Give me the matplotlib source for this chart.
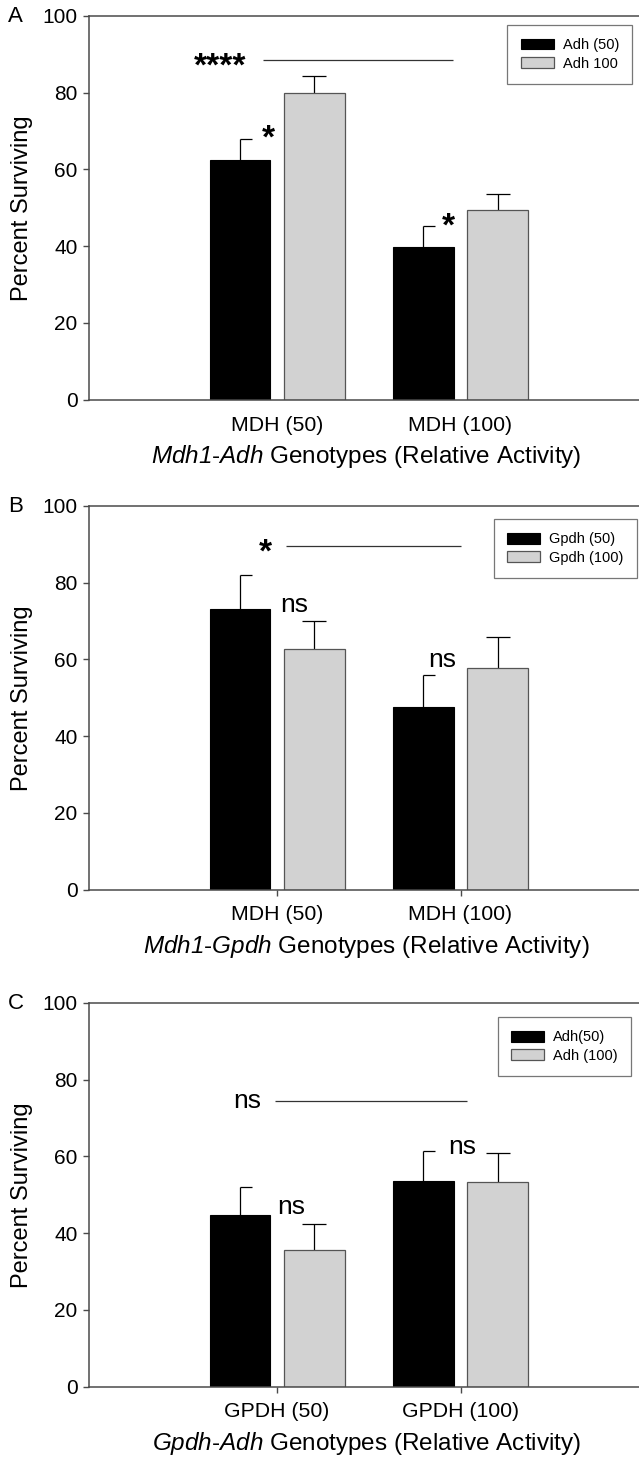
# three-panel survival bar chart (Mdh1 / Gpdh / Adh genotypes)

import matplotlib
matplotlib.use("Agg")
import matplotlib.pyplot as plt
from matplotlib.transforms import offset_copy

plt.rcParams["font.family"] = ["Liberation Sans", "DejaVu Sans"]
plt.rcParams["mathtext.fontset"] = "custom"
# italic gene names: the rm slot is pointed to the italic face so digits slant too
plt.rcParams["mathtext.rm"] = "Liberation Sans:italic"
plt.rcParams["mathtext.it"] = "Liberation Sans:italic"

groups = [1, 2]

# panel A
a_ticks = ["MDH (50)", "MDH (100)"]
a_black = [62.3, 39.8]
a_black_err = [5.6, 5.5]
a_gray = [79.8, 49.4]
a_gray_err = [4.4, 4.2]
a_legend = ["Adh (50)", "Adh 100"]
a_xlabel = r"$\mathrm{Mdh1}$-$\mathrm{Adh}$ Genotypes (Relative Activity)"
a_notes = [("*", 0.95, 69.8), ("*", 1.935, 46.7), ("****", 0.69, 88.4)]
a_line = (0.922, 1.96, 88.5)

# panel B
b_ticks = ["MDH (50)", "MDH (100)"]
b_black = [73.1, 47.7]
b_black_err = [8.9, 8.2]
b_gray = [62.7, 57.7]
b_gray_err = [7.2, 8.0]
b_legend = ["Gpdh (50)", "Gpdh (100)"]
b_xlabel = r"$\mathrm{Mdh1}$-$\mathrm{Gpdh}$ Genotypes (Relative Activity)"
b_notes = [("ns", 1.093, 74.2), ("ns", 1.90, 59.8), ("*", 0.938, 89.5)]
b_line = (1.051, 2.0, 89.6)

# panel C
c_ticks = ["GPDH (50)", "GPDH (100)"]
c_black = [44.7, 53.6]
c_black_err = [7.2, 7.9]
c_gray = [35.6, 53.3]
c_gray_err = [6.7, 7.5]
c_legend = ["Adh(50)", "Adh (100)"]
c_xlabel = r"$\mathrm{Gpdh}$-$\mathrm{Adh}$ Genotypes (Relative Activity)"
c_notes = [("ns", 1.078, 46.7), ("ns", 2.011, 62.5), ("ns", 0.839, 74.5)]
c_line = (0.989, 2.033, 74.5)

W, H = 639, 1462
fig = plt.figure(figsize=(W / 100, H / 100), dpi=100)

SPINE = "#4a4a4a"
GRAY = "#d2d2d2"
bw = 0.33
off = 0.203
cap = 0.066


def panel(top_px, letter, ticks, black, black_err, gray, gray_err,
          legend, xlabel, notes, line, xticks_marks, leg_anchor):
    left_px, right_px = 88.8, 643.9
    h_px = 384.0
    ax = fig.add_axes([left_px / W, 1 - (top_px + h_px) / H,
                       (right_px - left_px) / W, h_px / H])
    bx = [g - off for g in groups]
    gx = [g + off for g in groups]
    ax.bar(bx, black, width=bw, color="black", edgecolor="black",
           linewidth=0.8, label=legend[0], zorder=2)
    ax.bar(gx, gray, width=bw, color=GRAY, edgecolor="#555555",
           linewidth=0.9, label=legend[1], zorder=2)

    # upper error bars only
    btops = [v + e for v, e in zip(black, black_err)]
    gtops = [v + e for v, e in zip(gray, gray_err)]
    ax.vlines(bx, black, btops, color="black", lw=0.9, zorder=1)
    ax.vlines(gx, gray, gtops, color="black", lw=0.9, zorder=1)
    ax.hlines(btops, bx, [x + cap for x in bx], color="black", lw=0.9)
    ax.hlines(gtops, [x - cap for x in gx], [x + cap for x in gx],
              color="black", lw=0.9)

    star_tr = offset_copy(ax.transData, fig=fig, y=-5, units="points")
    for txt, x, y in notes:
        if "*" in txt:
            ax.text(x, y, txt, ha="center", va="center", fontsize=24,
                    fontweight="bold", transform=star_tr)
        else:
            ax.text(x, y, txt, ha="center", va="center", fontsize=19)
    ax.hlines(line[2], line[0], line[1], color="#333333", lw=0.9)

    ax.set_xlim(-0.027, 3.0)
    ax.set_ylim(0, 100)
    ax.set_yticks([0, 20, 40, 60, 80, 100])
    ax.set_xticks(groups)
    ax.set_xticklabels(ticks)
    ax.tick_params(axis="y", direction="out", length=4.2, width=1.0,
                   color=SPINE, labelsize=15, pad=4)
    if xticks_marks:
        ax.tick_params(axis="x", direction="out", length=4.2, width=1.0,
                       color=SPINE, labelsize=15.3, pad=7)
    else:
        ax.tick_params(axis="x", length=0, labelsize=15.3, pad=11.5)
    for s in ["left", "top", "bottom", "right"]:
        ax.spines[s].set_color(SPINE)
        ax.spines[s].set_linewidth(1.1)

    ax.set_ylabel("Percent Surviving", fontsize=17)
    ax.yaxis.set_label_coords(-0.1005, 0.5)
    ax.set_xlabel(xlabel, fontsize=17.5, labelpad=6)

    leg = ax.legend(loc="upper right", bbox_to_anchor=leg_anchor,
                    bbox_transform=fig.transFigure, fontsize=10.5,
                    frameon=True, fancybox=False, edgecolor="#555555",
                    handlelength=2.3, handleheight=0.75, handletextpad=0.6,
                    labelspacing=0.3, borderpad=0.9, borderaxespad=0)
    leg.get_frame().set_linewidth(0.9)

    fig.text(8 / W, 1 - (top_px + 1) / H, letter, fontsize=16,
             ha="left", va="center")
    return ax


panel(15.7, "A", a_ticks, a_black, a_black_err, a_gray, a_gray_err,
      a_legend, a_xlabel, a_notes, a_line, False,
      (632.4 / W, 1 - 25 / H))
panel(505.7, "B", b_ticks, b_black, b_black_err, b_gray, b_gray_err,
      b_legend, b_xlabel, b_notes, b_line, True,
      (636.5 / W, 1 - 519.3 / H))
panel(1002.7, "C", c_ticks, c_black, c_black_err, c_gray, c_gray_err,
      c_legend, c_xlabel, c_notes, c_line, True,
      (630.8 / W, 1 - 1017.3 / H))

fig.savefig("out.png", dpi=100)
